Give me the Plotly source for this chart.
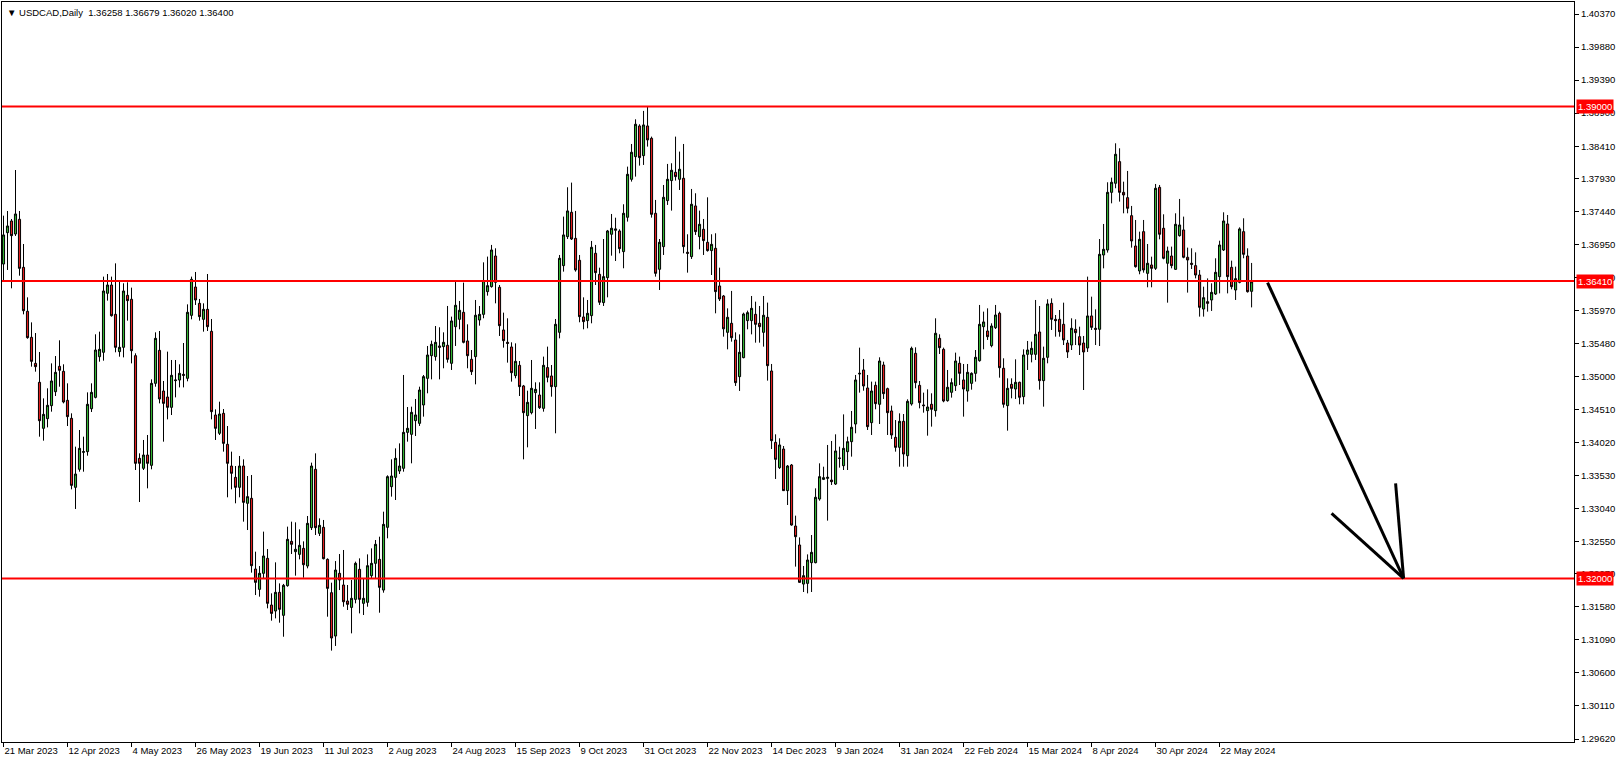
import pandas as pd
import plotly.graph_objects as go

# ---------------- data ----------------
holidays = ["2023-12-25", "2024-01-01"]
dates = [d for d in pd.bdate_range("2023-03-21", "2024-06-03") if d.strftime("%Y-%m-%d") not in holidays]

opens = [
    1.36663, 1.37128, 1.37301, 1.37108, 1.37326, 1.36614, 1.35962, 1.35576, 1.35190, 1.34909,
    1.34227, 1.34370, 1.34563, 1.34770, 1.35146, 1.35072, 1.34642, 1.34375, 1.33352, 1.33619,
    1.33871, 1.33881, 1.34518, 1.34686, 1.35289, 1.35354, 1.36229, 1.36352, 1.35917, 1.35364,
    1.35428, 1.36199, 1.36140, 1.35304, 1.33782, 1.33634, 1.33831, 1.33678, 1.34894, 1.35383,
    1.34780, 1.34691, 1.34538, 1.34934, 1.34943, 1.35027, 1.34968, 1.35902, 1.36322, 1.36080,
    1.35843, 1.35991, 1.35665, 1.34424, 1.34153, 1.34449, 1.33990, 1.33668, 1.33500, 1.33352,
    1.33668, 1.33115, 1.33189, 1.32141, 1.31839, 1.32077, 1.32299, 1.31607, 1.31518, 1.31795,
    1.31454, 1.31894, 1.32551, 1.32398, 1.32358, 1.32447, 1.32185, 1.32754, 1.33619, 1.32670,
    1.32759, 1.32284, 1.31790, 1.31147, 1.32077, 1.31904, 1.31666, 1.31572, 1.31691, 1.32136,
    1.31632, 1.31647, 1.32042, 1.32225, 1.32284, 1.31829, 1.32759, 1.33362, 1.33500, 1.33594,
    1.33634, 1.34167, 1.34138, 1.34341, 1.34301, 1.34573, 1.34968, 1.35304, 1.35290, 1.35448,
    1.35438, 1.35458, 1.35191, 1.35734, 1.35843, 1.35947, 1.35522, 1.35250, 1.35290, 1.35833,
    1.35917, 1.36254, 1.36328, 1.36782, 1.36318, 1.35685, 1.35502, 1.35433, 1.35008, 1.35161,
    1.34855, 1.34415, 1.34459, 1.34756, 1.34721, 1.34523, 1.35127, 1.35003, 1.34845, 1.35650,
    1.36639, 1.37069, 1.37430, 1.37044, 1.36718, 1.35878, 1.35824, 1.35898, 1.36822, 1.36510,
    1.36091, 1.36461, 1.37104, 1.37163, 1.37153, 1.36847, 1.37356, 1.37919, 1.38255, 1.38710,
    1.38270, 1.38710, 1.38527, 1.37415, 1.36585, 1.36921, 1.37603, 1.37900, 1.38023, 1.37919,
    1.37934, 1.36837, 1.36773, 1.37524, 1.37069, 1.37178, 1.36985, 1.36862, 1.36896, 1.36338,
    1.36189, 1.35650, 1.35784, 1.35537, 1.34993, 1.35275, 1.35824, 1.35824, 1.35917, 1.35784,
    1.35650, 1.35873, 1.35077, 1.34019, 1.33644, 1.33920, 1.33303, 1.33683, 1.32778, 1.32497,
    1.31918, 1.31928, 1.32235, 1.32235, 1.33179, 1.33470, 1.33485, 1.33460, 1.33401, 1.33787,
    1.33673, 1.33881, 1.34029, 1.34291, 1.35032, 1.35092, 1.34825, 1.34311, 1.34864, 1.34583,
    1.35166, 1.34815, 1.34484, 1.34093, 1.33945, 1.34331, 1.33821, 1.34588, 1.35339, 1.34864,
    1.34573, 1.34489, 1.34583, 1.34489, 1.35561, 1.35398, 1.34637, 1.34761, 1.34859, 1.35191,
    1.34944, 1.34780, 1.34894, 1.35042, 1.35230, 1.35734, 1.35670, 1.35453, 1.35719, 1.35932,
    1.35117, 1.34563, 1.34879, 1.34810, 1.34909, 1.34697, 1.35324, 1.35324, 1.35324, 1.35655,
    1.34934, 1.35280, 1.36080, 1.35843, 1.35843, 1.35769, 1.35492, 1.35462, 1.35695, 1.35586,
    1.35492, 1.35418, 1.35893, 1.35710, 1.35695, 1.36797, 1.36871, 1.37726, 1.37860, 1.38181,
    1.37726, 1.37647, 1.37380, 1.36930, 1.36560, 1.37143, 1.36525, 1.36649, 1.36599, 1.37800,
    1.37193, 1.36674, 1.36782, 1.36584, 1.37084, 1.37168, 1.36763, 1.36674, 1.36639, 1.36500,
    1.35996, 1.36105, 1.36130, 1.36219, 1.36476, 1.36871, 1.37257, 1.36614, 1.36278, 1.36392,
    1.37143, 1.36782, 1.36258,
]
highs = [
    1.37380, 1.37449, 1.37331, 1.38057, 1.37449, 1.36960, 1.36169, 1.35798, 1.35640, 1.35359,
    1.34671, 1.34820, 1.35190, 1.35299, 1.35532, 1.35176, 1.34894, 1.34449, 1.33955, 1.34202,
    1.34103, 1.34760, 1.34894, 1.35621, 1.35660, 1.36476, 1.36515, 1.36476, 1.36673, 1.36402,
    1.36377, 1.36392, 1.36313, 1.35339, 1.33856, 1.34054, 1.34128, 1.34953, 1.35650, 1.35670,
    1.34929, 1.35364, 1.35240, 1.35240, 1.35176, 1.35492, 1.36065, 1.36476, 1.36545, 1.36145,
    1.36080, 1.36515, 1.35848, 1.34508, 1.34622, 1.34513, 1.34261, 1.33881, 1.33668, 1.33817,
    1.33767, 1.33520, 1.33535, 1.32398, 1.32185, 1.32695, 1.32437, 1.31780, 1.32240, 1.31928,
    1.31920, 1.32769, 1.32843, 1.32833, 1.32729, 1.32551, 1.32927, 1.33718, 1.33856, 1.32892,
    1.32868, 1.32299, 1.31938, 1.32259, 1.32363, 1.32423, 1.31904, 1.31978, 1.32250, 1.32299,
    1.32002, 1.32358, 1.32447, 1.32571, 1.32620, 1.32991, 1.33530, 1.33767, 1.33930, 1.34004,
    1.35018, 1.34543, 1.34548, 1.34662, 1.34844, 1.35018, 1.35448, 1.35527, 1.35744, 1.35725,
    1.35650, 1.36041, 1.35883, 1.36402, 1.36115, 1.36387, 1.35769, 1.35388, 1.36130, 1.36041,
    1.36688, 1.36773, 1.36946, 1.36896, 1.36352, 1.35942, 1.35858, 1.35502, 1.35487, 1.35225,
    1.34870, 1.34785, 1.35240, 1.34909, 1.34909, 1.35290, 1.35438, 1.35166, 1.35848, 1.36797,
    1.37366, 1.37801, 1.37870, 1.37450, 1.36797, 1.36169, 1.36130, 1.37005, 1.36946, 1.36609,
    1.37034, 1.37168, 1.37405, 1.37350, 1.37178, 1.37549, 1.38107, 1.38443, 1.38809, 1.38735,
    1.38933, 1.38997, 1.38552, 1.37613, 1.37034, 1.37835, 1.38147, 1.38157, 1.38552, 1.38330,
    1.38443, 1.37104, 1.37776, 1.37712, 1.37455, 1.37331, 1.37652, 1.37104, 1.37119, 1.36609,
    1.36204, 1.36006, 1.36264, 1.35650, 1.35620, 1.35942, 1.35972, 1.36189, 1.36105, 1.36041,
    1.36189, 1.36091, 1.35181, 1.34138, 1.34079, 1.33965, 1.33683, 1.33698, 1.32932, 1.32610,
    1.32186, 1.32358, 1.32645, 1.33337, 1.33708, 1.33658, 1.33980, 1.34039, 1.34138, 1.33955,
    1.34434, 1.34103, 1.34484, 1.35018, 1.35423, 1.35255, 1.35018, 1.34919, 1.34919, 1.35280,
    1.35215, 1.34830, 1.34563, 1.34350, 1.34449, 1.34439, 1.34657, 1.35438, 1.35428, 1.34929,
    1.34756, 1.34805, 1.34746, 1.35858, 1.35621, 1.35423, 1.35092, 1.34968, 1.35349, 1.35290,
    1.35181, 1.35181, 1.35057, 1.35388, 1.36056, 1.35957, 1.36006, 1.35784, 1.36056, 1.35957,
    1.35265, 1.34968, 1.34968, 1.35250, 1.34919, 1.35398, 1.35522, 1.35512, 1.36130, 1.36041,
    1.35438, 1.36140, 1.36154, 1.35907, 1.35981, 1.36090, 1.35537, 1.35858, 1.35843, 1.35734,
    1.35596, 1.36476, 1.36179, 1.35991, 1.37034, 1.37257, 1.37875, 1.37944, 1.38453, 1.38379,
    1.37884, 1.38043, 1.37524, 1.37316, 1.37143, 1.37316, 1.36960, 1.36772, 1.37850, 1.37835,
    1.37400, 1.36921, 1.36921, 1.37415, 1.37628, 1.37366, 1.36906, 1.36896, 1.36836, 1.36575,
    1.36327, 1.36450, 1.36377, 1.36748, 1.37009, 1.37430, 1.37390, 1.36713, 1.36624, 1.37207,
    1.37341, 1.36896, 1.36679,
]
lows = [
    1.36426, 1.36575, 1.36303, 1.37079, 1.36490, 1.35917, 1.35556, 1.35141, 1.35067, 1.34103,
    1.34044, 1.34241, 1.34474, 1.34706, 1.34844, 1.34597, 1.34261, 1.33322, 1.33031, 1.33584,
    1.33584, 1.33821, 1.34469, 1.34671, 1.35215, 1.35230, 1.36120, 1.35883, 1.35354, 1.35289,
    1.35279, 1.35823, 1.35190, 1.33609, 1.33134, 1.33609, 1.33337, 1.33619, 1.34844, 1.34597,
    1.34029, 1.34360, 1.34424, 1.34686, 1.34834, 1.34834, 1.34924, 1.35843, 1.36056, 1.35823,
    1.35660, 1.35670, 1.34360, 1.34054, 1.34128, 1.33881, 1.33204, 1.33322, 1.33115, 1.33204,
    1.32843, 1.32719, 1.32087, 1.31755, 1.31731, 1.32002, 1.31558, 1.31375, 1.31409, 1.31345,
    1.31137, 1.31879, 1.32363, 1.32042, 1.32284, 1.32012, 1.32151, 1.32719, 1.32645, 1.32630,
    1.32284, 1.31434, 1.30931, 1.31000, 1.31829, 1.31582, 1.31533, 1.31187, 1.31632, 1.31483,
    1.31459, 1.31582, 1.32002, 1.32002, 1.31493, 1.31790, 1.32596, 1.33214, 1.33164, 1.33550,
    1.33584, 1.34029, 1.33708, 1.34113, 1.34262, 1.34400, 1.34746, 1.34953, 1.35230, 1.34953,
    1.35117, 1.35201, 1.35092, 1.35448, 1.35695, 1.35487, 1.35117, 1.35018, 1.34879, 1.35749,
    1.35858, 1.36194, 1.36313, 1.36080, 1.35596, 1.35423, 1.35201, 1.34919, 1.34968, 1.34706,
    1.33767, 1.33945, 1.34434, 1.34217, 1.34514, 1.34474, 1.34909, 1.34696, 1.34153, 1.35561,
    1.36550, 1.37034, 1.37019, 1.36550, 1.35799, 1.35695, 1.35710, 1.35784, 1.36352, 1.36056,
    1.36041, 1.36169, 1.36787, 1.36708, 1.36822, 1.36600, 1.37292, 1.37885, 1.37959, 1.38122,
    1.38132, 1.38404, 1.37351, 1.36476, 1.36278, 1.36797, 1.37539, 1.37455, 1.37900, 1.37761,
    1.36822, 1.36535, 1.36738, 1.37094, 1.36881, 1.36797, 1.36847, 1.36500, 1.35932, 1.36115,
    1.35586, 1.35398, 1.35512, 1.34855, 1.34781, 1.35265, 1.35695, 1.35620, 1.35497, 1.35497,
    1.35438, 1.34934, 1.33920, 1.33476, 1.33624, 1.33298, 1.33090, 1.32783, 1.32176, 1.31938,
    1.31800, 1.31780, 1.31800, 1.32225, 1.33154, 1.33460, 1.32858, 1.33387, 1.33387, 1.33644,
    1.33609, 1.33609, 1.33807, 1.34153, 1.34756, 1.34785, 1.34202, 1.34128, 1.34509, 1.34291,
    1.34662, 1.34128, 1.34069, 1.33881, 1.33658, 1.33658, 1.33658, 1.34563, 1.34820, 1.34523,
    1.34459, 1.34118, 1.34252, 1.34400, 1.35329, 1.34613, 1.34622, 1.34682, 1.34781, 1.34869,
    1.34400, 1.34622, 1.34800, 1.34919, 1.35215, 1.35398, 1.35537, 1.35428, 1.35700, 1.34978,
    1.34533, 1.34192, 1.34672, 1.34662, 1.34583, 1.34583, 1.35092, 1.35205, 1.35240, 1.34800,
    1.34548, 1.35191, 1.35685, 1.35586, 1.35586, 1.35462, 1.35270, 1.35388, 1.35462, 1.35314,
    1.34795, 1.35359, 1.35685, 1.35462, 1.35447, 1.36599, 1.36832, 1.37563, 1.37786, 1.37588,
    1.37415, 1.37415, 1.36906, 1.36609, 1.36511, 1.36535, 1.36318, 1.36318, 1.36575, 1.37029,
    1.36733, 1.36090, 1.36599, 1.36575, 1.37069, 1.36748, 1.36239, 1.36589, 1.36450, 1.35883,
    1.35883, 1.35957, 1.35967, 1.36204, 1.36228, 1.36856, 1.36228, 1.36288, 1.36130, 1.36377,
    1.36748, 1.36239, 1.36020,
]
closes = [
    1.37094, 1.37227, 1.37084, 1.37405, 1.36599, 1.35971, 1.35571, 1.35220, 1.35141, 1.34340,
    1.34434, 1.34568, 1.34929, 1.35057, 1.35087, 1.34617, 1.34400, 1.33381, 1.33549, 1.33930,
    1.33881, 1.34583, 1.34760, 1.35388, 1.35398, 1.36263, 1.36352, 1.35897, 1.35428, 1.35428,
    1.36263, 1.36120, 1.35378, 1.33708, 1.33708, 1.33831, 1.33708, 1.34894, 1.35561, 1.34662,
    1.34597, 1.34538, 1.35013, 1.34943, 1.35042, 1.35013, 1.35947, 1.36436, 1.36130, 1.35883,
    1.35991, 1.35734, 1.34474, 1.34227, 1.34439, 1.34004, 1.33708, 1.33560, 1.33352, 1.33668,
    1.33129, 1.33214, 1.32190, 1.31943, 1.32077, 1.32334, 1.31632, 1.31483, 1.31795, 1.31543,
    1.31899, 1.32581, 1.32507, 1.32433, 1.32492, 1.32205, 1.32818, 1.33668, 1.32754, 1.32788,
    1.32294, 1.31854, 1.31118, 1.32126, 1.31978, 1.31656, 1.31617, 1.31706, 1.32225, 1.31691,
    1.31706, 1.32190, 1.32225, 1.32507, 1.31869, 1.32803, 1.33510, 1.33520, 1.33782, 1.33668,
    1.34167, 1.34227, 1.34464, 1.34425, 1.34795, 1.34993, 1.35314, 1.35473, 1.35502, 1.35428,
    1.35502, 1.35250, 1.35819, 1.36051, 1.35977, 1.35502, 1.35304, 1.35067, 1.35903, 1.35917,
    1.36417, 1.36342, 1.36871, 1.36392, 1.35749, 1.35527, 1.35487, 1.35052, 1.35220, 1.34845,
    1.34459, 1.34612, 1.34820, 1.34805, 1.34533, 1.35161, 1.34983, 1.34845, 1.35769, 1.36748,
    1.37094, 1.37450, 1.37034, 1.36575, 1.35883, 1.35809, 1.35932, 1.36911, 1.36535, 1.36096,
    1.36476, 1.37153, 1.37193, 1.37183, 1.36891, 1.37415, 1.37993, 1.38320, 1.38735, 1.38241,
    1.38725, 1.38503, 1.37400, 1.36525, 1.36985, 1.37652, 1.37919, 1.38053, 1.37959, 1.38068,
    1.36921, 1.36822, 1.37549, 1.37143, 1.37252, 1.37010, 1.36862, 1.36955, 1.36254, 1.36145,
    1.35702, 1.35873, 1.35571, 1.34904, 1.35354, 1.35922, 1.35942, 1.36006, 1.35769, 1.35734,
    1.35903, 1.35156, 1.34044, 1.33767, 1.33980, 1.33303, 1.33668, 1.32793, 1.32620, 1.31943,
    1.32042, 1.32274, 1.32388, 1.33204, 1.33510, 1.33495, 1.33500, 1.33436, 1.33891, 1.33782,
    1.33930, 1.34029, 1.34242, 1.34944, 1.35042, 1.34855, 1.34252, 1.34780, 1.34593, 1.35225,
    1.34741, 1.34459, 1.34128, 1.33945, 1.34331, 1.33846, 1.34627, 1.35413, 1.34904, 1.34608,
    1.34563, 1.34543, 1.34509, 1.35636, 1.35423, 1.34632, 1.34835, 1.34904, 1.35225, 1.35042,
    1.34810, 1.35057, 1.35042, 1.35280, 1.35769, 1.35804, 1.35586, 1.35744, 1.35907, 1.35126,
    1.34583, 1.34820, 1.34820, 1.34909, 1.34687, 1.35314, 1.35388, 1.35413, 1.35621, 1.34934,
    1.35265, 1.36071, 1.35843, 1.35823, 1.35660, 1.35537, 1.35359, 1.35710, 1.35645, 1.35462,
    1.35359, 1.35893, 1.35724, 1.35695, 1.36807, 1.36881, 1.37726, 1.37875, 1.38290, 1.37726,
    1.37687, 1.37489, 1.37005, 1.36624, 1.37029, 1.36575, 1.36674, 1.36599, 1.37786, 1.37104,
    1.36748, 1.36856, 1.36639, 1.37252, 1.37242, 1.36763, 1.36723, 1.36659, 1.36500, 1.36021,
    1.36164, 1.36080, 1.36243, 1.36540, 1.36945, 1.37301, 1.36476, 1.36327, 1.36446, 1.37183,
    1.36807, 1.36253, 1.36400,
]

x_tick_labels = [
    "21 Mar 2023", "12 Apr 2023", "4 May 2023", "26 May 2023", "19 Jun 2023", "11 Jul 2023",
    "2 Aug 2023", "24 Aug 2023", "15 Sep 2023", "9 Oct 2023", "31 Oct 2023", "22 Nov 2023",
    "14 Dec 2023", "9 Jan 2024", "31 Jan 2024", "22 Feb 2024", "15 Mar 2024", "8 Apr 2024",
    "30 Apr 2024", "22 May 2024",
]
y_tick_values = [
    1.29620, 1.30110, 1.30600, 1.31090, 1.31580, 1.32070, 1.32550, 1.33040, 1.33530, 1.34020,
    1.34510, 1.35000, 1.35480, 1.35970, 1.36460, 1.36950, 1.37440, 1.37930, 1.38410, 1.38900,
    1.39390, 1.39880, 1.40370,
]
levels = [1.39000, 1.36410, 1.32000]

# hand-drawn arrow (bar index, price)
arrow_x = [316.0, 350.0]
arrow_y = [1.36386, 1.32003]
arrow_head_x = [332.0, 348.0]
arrow_head_y = [1.32967, 1.33412]

symbol = "USDCAD,Daily"

# ---------------- figure ----------------
GREEN = "#32B432"
RED = "#E01E1E"
FONT = "Liberation Sans"

idx = list(range(len(dates)))
labels_of_dates = [f"{d.day} {d.strftime('%b %Y')}" for d in dates]
x_tick_vals = [labels_of_dates.index(t) for t in x_tick_labels]

fig = go.Figure(go.Candlestick(
    x=idx, open=opens, high=highs, low=lows, close=closes,
    increasing=dict(fillcolor=GREEN, line=dict(color="black", width=1)),
    decreasing=dict(fillcolor=RED, line=dict(color="black", width=1)),
    whiskerwidth=0, hoverinfo="skip",
))

shapes = []
for lv in levels:
    shapes.append(dict(type="line", xref="paper", x0=0, x1=1, yref="y", y0=lv, y1=lv,
                       line=dict(color="#FF0000", width=2), layer="above"))
shapes.append(dict(type="line", xref="x", yref="y", x0=arrow_x[0], y0=arrow_y[0], x1=arrow_x[1], y1=arrow_y[1],
                   line=dict(color="black", width=3)))
for hx, hy in zip(arrow_head_x, arrow_head_y):
    shapes.append(dict(type="line", xref="x", yref="y", x0=hx, y0=hy, x1=arrow_x[1], y1=arrow_y[1],
                       line=dict(color="black", width=3)))

annotations = []
for lv in levels:
    annotations.append(dict(xref="paper", x=1, xanchor="left", xshift=2, yref="y", y=lv,
                            text=f"{lv:.5f}", showarrow=False, bgcolor="#FF0000",
                            font=dict(family=FONT, size=9.5, color="white"), borderpad=1))
header = (f"\u25BC {symbol}\u00a0\u00a0{opens[-1]:.5f} {highs[-1]:.5f} "
          f"{lows[-1]:.5f} {closes[-1]:.5f}")
annotations.append(dict(xref="paper", yref="paper", x=0, y=1, xanchor="left", yanchor="top",
                        xshift=3, yshift=-3, text=header, showarrow=False,
                        font=dict(family=FONT, size=9.5, color="black")))

fig.update_layout(
    width=1620, height=763,
    margin=dict(l=2, r=46, t=2, b=21),
    paper_bgcolor="white", plot_bgcolor="white",
    showlegend=False, boxgap=0.25,
    shapes=shapes, annotations=annotations,
    xaxis=dict(
        range=[-0.375, 392.6], rangeslider=dict(visible=False),
        tickvals=x_tick_vals, ticktext=x_tick_labels,
        ticks="outside", ticklen=4, tickcolor="black",
        ticklabelposition="outside right",
        tickfont=dict(family=FONT, size=9.5, color="black"),
        showgrid=False, zeroline=False, showline=True, linecolor="black", linewidth=1, mirror=True,
    ),
    yaxis=dict(
        side="right", range=[1.29576, 1.40548],
        tickvals=y_tick_values, ticktext=[f"{v:.5f}" for v in y_tick_values],
        ticks="outside", ticklen=4, tickcolor="black",
        tickfont=dict(family=FONT, size=9.5, color="black"),
        showgrid=False, zeroline=False, showline=True, linecolor="black", linewidth=1, mirror=True,
    ),
)

fig.write_html("out.html", config={"displayModeBar": False},
               post_script="document.body.style.margin='0';document.body.style.overflow='hidden';")
